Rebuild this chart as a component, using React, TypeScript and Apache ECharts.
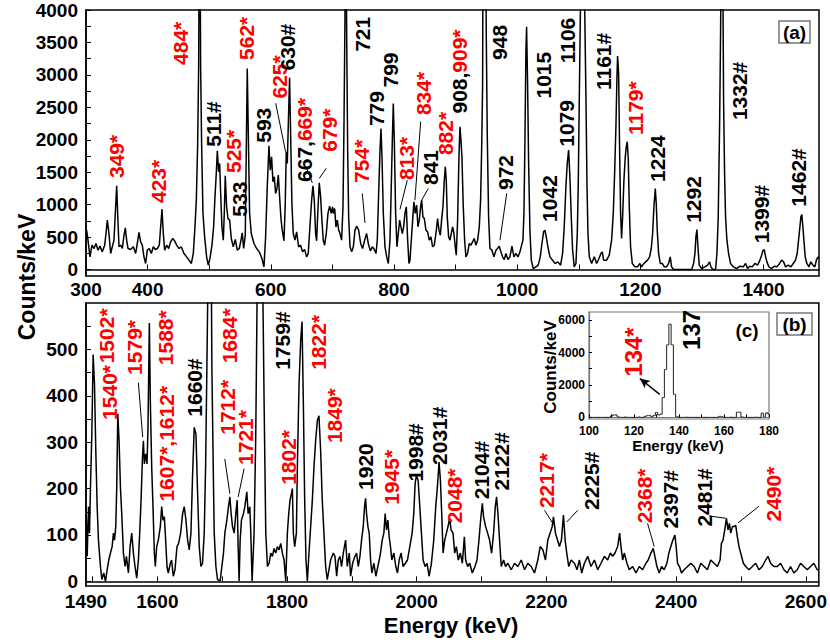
import React, { useEffect, useRef } from "react";
import * as echarts from "echarts";

// ---------- Panel (a): spectrum 300-1490 keV, [energy keV, counts/keV] ----------
const spectrumA: [number, number][] = [
  [301,607],[303.2,452],[306.5,195],[309.7,375],[313,324],[316.2,401],[319.5,298],[322.7,360],[326.5,272],[330.3,375],[332.5,555],[334.6,761],[337.3,555],[340,247],[343.3,375],[345.4,452],[348.1,966],[349.8,1290],[351.4,864],[353.6,350],[356.3,375],[359,324],[361.7,529],[363.8,643],[366,452],[368.2,324],[372.5,308],[376.8,350],[380.6,247],[383.3,401],[386,571],[388.7,427],[391.4,375],[394.1,195],[396.8,93],[399.5,298],[402.8,324],[406,247],[409.3,350],[412.5,308],[415.8,324],[419,375],[421.2,658],[423.4,930],[425.5,555],[427.7,298],[431,375],[434.2,324],[437.4,427],[440.7,478],[443.9,442],[447.2,375],[451,324],[454.7,350],[459,247],[463.4,195],[467.2,144],[471,93],[474.2,247],[476.9,658],[479.1,1069],[481.2,1892],[482.9,3125],[484.5,6500],[486.1,3125],[487.7,1943],[489.9,864],[492.6,504],[495.8,195],[498.5,67],[501.2,170],[504.5,375],[507.2,658],[509.4,1121],[511.5,1480],[513.2,1830],[515.3,1506],[517,1635],[518.6,1172],[520.7,658],[522.9,452],[524.5,864],[526.1,1444],[528.3,966],[530.5,786],[533.2,761],[535.9,478],[539.1,350],[542.4,463],[545.6,298],[548.9,324],[551.6,452],[553.7,565],[555.9,324],[558.6,529],[560.2,1840],[561.8,3099],[563.5,2097],[565.6,864],[568.3,555],[572.7,401],[577,324],[581.3,272],[585.6,170],[588.9,41],[591.6,504],[594.3,1275],[597,1907],[599.2,1532],[601.3,1737],[603.5,1352],[605.7,1429],[607.8,1172],[610,1249],[612.2,1455],[614.3,1121],[616.5,786],[618.6,607],[621.4,442],[623.5,1018],[625.1,1814],[626.8,1635],[628.9,2406],[630.5,2956],[632.2,2097],[634.3,1018],[636.5,555],[639.2,452],[641.9,581],[645.2,350],[648.4,375],[651.6,272],[654.9,308],[658.1,195],[660.8,247],[663.5,658],[666.3,1069],[668.4,1290],[670.6,1069],[672.8,555],[674.4,442],[676.5,915],[678.7,1336],[680.9,1121],[683,761],[685.2,452],[687.4,375],[690.1,555],[692.8,864],[695.5,977],[698.2,864],[700.3,966],
  [701.5,864],[703.7,941],[705.8,658],[708,761],[710.2,607],[712.3,555],[715,452],[717.2,966],[718.8,2200],[720.4,3845],[721.5,6500],[723.1,3742],[724.8,1840],[726.4,812],[728.6,350],[731.3,272],[734,350],[736.7,607],[739.4,668],[742.6,607],[745.9,401],[749.1,324],[752.4,452],[755.6,555],[758.3,401],[761.6,288],[764.8,350],[768.1,308],[770.8,247],[772.9,452],[775.1,1172],[777.3,1840],[778.9,2174],[780.5,1737],[782.7,864],[785.4,350],[788.1,195],[790.8,93],[793.5,452],[795.6,1275],[797.3,1994],[798.9,2560],[800.5,1994],[802.7,864],[804.8,350],[807,555],[809.2,761],[811.3,658],[813.5,555],[815.7,658],[817.8,864],[820,966],[822.2,452],[824.3,93],[826,144],[828.1,452],[830.3,761],[832.4,1043],[834.6,864],[836.8,992],[838.9,658],[841.1,761],[843.2,966],[844.9,1069],[847,812],[849.2,786],[851.9,607],[854.6,581],[857.3,452],[860,504],[862.7,350],[865.4,375],[868.1,555],[870.8,786],[873,607],[875.2,529],[877.3,761],[879.5,966],[881.7,1378],[883.3,1583],[884.9,1378],[886.5,812],[888.7,504],[890.9,452],[893,555],[895.2,658],[897.3,555],[899.5,350],[901.1,221],[903.3,761],[905.5,1737],[907.1,2200],[908.7,1994],[910.3,1737],[912.5,966],[914.7,452],[916.8,195],[919.5,247],[922.2,401],[925,375],[927.6,427],[930.3,478],[933,375],[935.8,452],[938.5,658],[940.6,1069],[942.3,1840],[943.9,2868],[945,6500],[948,6500],[949.8,3639],[951.4,2097],[953.6,812],[955.8,324],[959,298],[962.3,195],[965.5,298],[968.2,324],[970.9,360],[973.6,272],[976.3,195],[979,154],[981.7,247],[985,154],[988.2,195],[991.5,360],[994.7,195],[998,247],[1001.2,195],[1004.5,272],[1007.2,375],[1009.3,452],[1011,864],[1012.6,1994],[1014.2,3382],[1015.3,3742],[1016.9,2868],[1018.5,1686],[1020.7,607],[1022.9,144],[1026.1,15],[1030.4,41],[1034.2,67],[1037.5,195],[1040.2,401],[1042.9,581],[1045,607],[1047.2,504],[1049.9,350],[1053.2,195],[1057.5,144],[1061.8,93],[1066.1,118],[1070.5,67],[1073.7,247],[1076.4,658],[1079.1,1275],[1081.3,1635],[1083.5,1840],[1085.6,1429],[1087.8,812],[1090,298],[1092.6,41],[1095.4,93],[1097.6,555],[1099.2,1326],[1100.8,2611],[1106,6500],[1111.7,2611],[1113.3,1326],[1114.9,555],[1117.1,195],[1120.8,93],[1125.2,195],[1129,93],[1132.8,170],[1136,247],[1138.2,272],[1140.3,144],[1145.2,144],[1149.5,221],[1153.3,452],[1156,864],[1158.2,1480],[1160.3,2200],[1162,2971],[1163,3290],[1164.7,3022],[1166.3,1840],[1167.9,864],[1169.5,478],[1171.2,812],[1173.3,1378],[1175.5,1737],[1177.1,1892],[1178.7,1969],[1180.4,1686],[1182,966],[1184.1,350],[1186.9,93],[1191.2,41],[1195.5,41],[1199.3,93],[1202,41],[1204.7,82],[1208.5,118],[1211.7,144],[1215,195],[1217.7,324],[1219.9,555],[1222,966],[1224.2,1249],[1225.8,1018],[1227.4,607],[1229.6,247],[1232.3,93],[1235.5,93],[1238.8,41],[1242.6,41],[1245.8,93],[1248.5,195],[1250.7,41],[1254,0],[1283.2,0],[1286.4,93],[1288.6,247],[1290.2,504],[1291.8,617],[1293.4,350],[1295.6,67],[1299.4,15],[1304.8,41],[1309.1,67],[1312.4,118],[1314.5,41],[1317.8,0],[1322.1,0],[1324.3,247],[1326.4,812],[1328.6,2200],[1330.2,3639],[1332.6,6500],[1335.1,2611],[1336.7,1480],[1338.3,812],[1340.5,452],[1343.2,247],[1346.4,93],[1350.8,41],[1356.2,15],[1361.6,51],[1367,41],[1370.8,93],[1374,15],[1377.8,51],[1381.6,41],[1385.9,93],[1390.3,67],[1394.1,144],[1396.8,221],[1398.9,288],[1401.1,308],[1403.3,195],[1405.4,118],[1408.7,41],[1413,15],[1417.3,51],[1421.6,41],[1426,93],[1429.2,144],[1432.5,118],[1435.7,41],[1440,67],[1444.4,41],[1448.2,93],[1451.9,144],[1454.6,247],[1456.8,452],[1459,658],[1460.6,812],[1462.2,848],[1463.8,658],[1465.5,452],[1467.6,195],[1470.3,93],[1473.6,41],[1476.8,118],[1480.1,67],[1483.3,41],[1486,154],[1488.7,195],[1490,170],
];

// ---------- Panel (b): spectrum 1490-2620 keV ----------
const spectrumB: [number, number][] = [
  [1490.3,146],[1491.8,54],[1493.9,161],[1495.4,104],[1496.9,203],[1499,318],[1501,489],[1503.1,425],[1505.1,282],[1507.2,161],[1509.2,89],[1512.3,32],[1514.4,4],[1517.4,18],[1520,0],[1522.6,25],[1525.1,46],[1527.7,61],[1530.3,75],[1532.3,104],[1533.9,89],[1535.9,118],[1537.4,203],[1539,361],[1541,303],[1543.1,203],[1545.1,146],[1547.7,61],[1550.3,32],[1552.3,54],[1555.4,18],[1558,75],[1560.5,104],[1563.1,61],[1565.6,32],[1568.2,7],[1570.8,46],[1572.8,104],[1574.9,175],[1576.9,261],[1578.5,303],[1580,253],[1582.1,275],[1584.1,253],[1585.6,332],[1587.7,557],[1589.2,389],[1591.3,246],[1593.3,161],[1595.4,61],[1596.9,32],[1599,75],[1601.5,89],[1604.6,118],[1606.7,161],[1608.7,132],[1610.8,139],[1612.8,89],[1614.9,32],[1616.9,18],[1620,39],[1622,46],[1624.6,11],[1627.2,25],[1630.3,75],[1632.8,82],[1635.9,104],[1639,146],[1641.5,161],[1644.1,132],[1646.7,89],[1649.2,68],[1651.8,104],[1654.4,232],[1656.9,332],[1659.5,318],[1662.1,189],[1664.6,75],[1667.2,32],[1669.7,39],[1672.3,104],[1674.4,246],[1676.4,461],[1678.5,700],[1680.5,1200],[1682.6,800],[1684.1,461],[1686.2,246],[1687.7,104],[1690.3,32],[1692.8,4],[1696.9,1],[1699.5,32],[1702,61],[1704.1,104],[1707.2,132],[1709.7,161],[1711.8,182],[1713.8,146],[1715.9,118],[1718.5,104],[1721,146],[1723.1,175],[1724.6,75],[1726.1,1],[1727.7,89],[1729.7,132],[1732.8,146],[1734.9,161],[1738,193],[1740,146],[1742.6,161],[1744.1,104],[1746.1,1],[1749.2,104],[1751.8,318],[1754.4,700],[1758.5,2000],[1762.1,700],[1764.6,389],[1767.2,104],[1769.8,32],[1772.3,39],[1774.9,61],[1777.4,54],[1780,71],[1782.6,61],[1785.1,75],[1787.7,68],[1790.3,82],[1792.8,61],[1795.4,46],[1798,1],[1800.5,104],[1802.6,146],[1804.6,175],[1806.7,189],[1808.2,200],[1809.7,104],[1811.8,75],[1814.4,104],[1815.9,246],[1818.5,425],[1821,518],[1823.1,560],[1825.1,389],[1827.2,175],[1829.2,46],[1831.3,1],[1833.8,61],[1836.4,118],[1839,175],[1841.5,246],[1844.1,303],[1846.7,346],[1849.2,357],[1851.8,282],[1854.3,175],[1856.9,104],[1859.5,32],[1862,4],[1867.2,46],[1871.3,61],
  [1873.9,54],[1876.5,11],[1879,46],[1881.6,54],[1884.1,32],[1886.7,61],[1890.3,89],[1892.9,32],[1895.9,61],[1898,11],[1901.1,39],[1904.7,54],[1907.2,61],[1909.8,32],[1912.4,54],[1914.9,89],[1917.5,118],[1919.5,161],[1921.1,179],[1922.6,146],[1924.7,118],[1926.7,104],[1928.8,46],[1930.8,18],[1933.9,39],[1937,11],[1940,32],[1942.1,46],[1944.1,61],[1946.7,89],[1949.3,104],[1951.3,146],[1953.4,111],[1955.4,132],[1957.5,96],[1959.5,75],[1961.6,46],[1964.7,61],[1967.7,32],[1970.3,18],[1972.9,46],[1975.9,61],[1979,32],[1982.6,39],[1985.7,46],[1989.3,75],[1992.9,104],[1995.4,146],[1997.5,211],[1999.5,228],[2002.1,218],[2004.7,161],[2007.2,104],[2009.8,46],[2012.9,32],[2015.9,39],[2019,11],[2022.6,39],[2026.2,89],[2029.3,161],[2031.8,203],[2034.4,257],[2036.5,218],[2038.5,146],[2040.6,61],[2043.1,89],[2045.7,104],[2048.2,118],[2050.8,136],[2052.9,111],[2055.9,104],[2058.5,61],[2061.1,75],[2064.1,46],[2067.2,61],[2070.3,39],[2073.4,96],[2075.4,46],[2078.5,32],[2081.6,39],[2085.7,18],[2089.8,32],[2092.9,46],[2095.9,89],[2098.5,132],[2101.1,168],[2103.1,139],[2106.2,118],[2109.3,104],[2112.3,89],[2115.4,61],[2118.5,104],[2121.1,161],[2123.1,182],[2125.2,146],[2127.7,89],[2130.3,32],[2133.9,46],[2136.9,32],[2140.5,39],[2145.7,25],[2150.8,39],[2155.9,32],[2161.1,46],[2166.2,25],[2171.3,39],[2176.5,32],[2181.6,18],[2186.7,46],[2190.3,75],[2194.4,68],[2198.5,46],[2202.1,89],[2205.7,104],[2208.8,118],[2210.8,139],[2213.9,104],[2217,89],[2220,75],[2223.1,89],[2226.2,143],[2228.8,89],[2231.3,61],[2234.4,32],[2238,46],[2243.1,39],
  [2247.2,25],[2250.8,46],[2254.4,18],[2258.5,39],[2263.6,54],[2268.7,32],[2273.9,46],[2279,25],[2284.1,39],[2289.3,54],[2294.4,46],[2298.5,61],[2302.1,54],[2305.7,61],[2309.8,75],[2312.8,104],[2314.9,75],[2317.5,46],[2320,61],[2324.1,39],[2327.7,25],[2332.8,32],[2338,18],[2343.1,32],[2348.2,25],[2353.4,39],[2356.9,46],[2361.1,61],[2364.6,71],[2367.2,54],[2370.3,32],[2373.9,18],[2377.5,32],[2381.6,25],[2385.7,39],[2388.7,61],[2391.8,75],[2394.9,89],[2398,100],[2400,75],[2402.1,39],[2405.1,32],[2408.2,18],[2412.3,25],[2417.5,32],[2422.6,39],[2427.7,32],[2432.8,18],[2438,39],[2443.1,32],[2448.2,25],[2453.3,46],[2458.5,39],[2463.6,32],[2467.7,46],[2469.8,82],[2472.3,89],[2474.9,111],[2477.5,136],[2480,111],[2482.1,125],[2484.1,104],[2486.7,118],[2489.2,118],[2491.8,121],[2494.4,96],[2496.9,75],[2499.5,61],[2503.6,39],[2507.2,32],[2512.3,25],[2517.5,32],[2522.6,39],[2527.7,25],[2532.8,32],[2538,46],[2541.5,54],[2545.7,39],[2550.8,32],[2555.9,32],[2561,39],[2566.2,25],[2571.3,18],[2576.4,32],[2581.5,18],[2586.7,25],[2591.8,39],[2596.9,32],[2602.1,25],[2607.2,32],[2612.3,39],[2617.5,25],[2620,25],
];

// ---------- Inset (c): 1-keV bins from 100 to 180 keV ----------
const insetStart = 100;
const insetCounts = [
  0,0,0,0,0,0,0,0,0,0,          // 100-109
  80,150,150,30,0,0,20,0,0,0,   // 110-119
  0,0,30,0,0,60,110,110,40,120, // 120-129
  300,150,200,1220,2950,4475,5750,4475,1420,40, // 130-139
  0,0,0,10,0,0,0,0,0,0,         // 140-149
  0,0,0,0,0,0,0,0,60,40,        // 150-159
  0,0,0,10,0,0,320,320,20,0,    // 160-169
  0,0,0,0,10,0,0,260,60,280,200, // 170-180
];

// ---------- Axis ticks and labels ----------
const xLabelsA = [300, 400, 600, 800, 1000, 1200, 1400];
const xTicksA = [300, 400, 500, 600, 700, 800, 900, 1000, 1100, 1200, 1300, 1400];
const yLabelsA = [0, 500, 1000, 1500, 2000, 2500, 3000, 3500, 4000];
const yTicksA = [0,250,500,750,1000,1250,1500,1750,2000,2250,2500,2750,3000,3250,3500,3750,4000];
const xLabelsB = [1490, 1600, 1800, 2000, 2200, 2400, 2600];
const xTicksB = [1500,1600,1700,1800,1900,2000,2100,2200,2300,2400,2500,2600];
const yLabelsB = [0, 100, 200, 300, 400, 500];
const yTicksB = [0,50,100,150,200,250,300,350,400,450,500,550];
const xLabelsC = [100, 120, 140, 160, 180];
const xTicksC = [100, 110, 120, 130, 140, 150, 160, 170, 180];
const yLabelsC = [0, 2000, 4000, 6000];
const yTicksC = [0, 1000, 2000, 3000, 4000, 5000, 6000];

// ---------- Peak labels: [text, energy at label, counts at label start, colour r/k/m] ----------
const peakLabelsA: [string, number, number, string][] = [
  ["349*",350,1410,"r"],["423*",417,1025,"r"],["484*",453,3153,"r"],["511#",507,1892,"k"],
  ["525*",540,1487,"r"],["533",549,814,"k"],["562*",560,3230,"r"],["593",588,1954,"k"],
  ["625*",614,2636,"r"],["630#",627,3068,"k"],["667,669*",655.5,1350,"m"],["679*",695,1815,"r"],
  ["721",748.6,3355,"k"],["754*",747,1335,"r"],["779",772,2211,"k"],["799",795,2805,"k"],
  ["813*",820,1378,"r"],["834*",847.6,2380,"r"],["841",859.4,1302,"k"],["882*",884.4,1764,"r"],
  ["908,909*",906,2404,"m"],["948",970.5,3230,"k"],["972",981.8,1225,"k"],["1015",1042.3,2636,"k"],
  ["1042",1053,734,"k"],["1079",1080,1892,"k"],["1106",1082.5,3179,"k"],["1161#",1139.7,2766,"k"],
  ["1179*",1192,2073,"r"],["1224",1227,1350,"k"],["1292",1287,719,"k"],["1332#",1361.7,2303,"k"],
  ["1399#",1396.8,404,"k"],["1462#",1457.5,969,"k"],
];
const peakLabelsB: [string, number, number, string][] = [
  ["1502*",1521,470,"r"],["1540*",1526,348,"r"],["1579*",1564.6,445,"r"],["1588*",1612.8,466,"r"],
  ["1607*,1612*",1613.8,172,"r"],["1660#",1657,355,"k"],["1684*",1711.3,470,"r"],["1712*",1708,316,"r"],
  ["1721*",1736.4,251,"r"],["1759#",1792.8,456,"k"],["1802*",1801.5,208,"r"],["1822*",1849.2,456,"r"],
  ["1849*",1873.8,298,"r"],["1920",1921.6,197,"k"],["1945*",1961,165,"r"],["1998#",1998.5,215,"k"],
  ["2031#",2034.4,251,"k"],["2048*",2058,125,"r"],["2104#",2099.5,177,"k"],["2122#",2130.3,196,"k"],
  ["2217*",2200.5,158,"r"],["2225#",2268.8,154,"k"],["2368*",2351.8,125,"r"],["2397#",2391.8,114,"k"],
  ["2481#",2443.1,118,"k"],["2490*",2549.8,129,"r"],
];
const peakLabelsC: [string, number, number, string][] = [
  ["134*",119.9,2510,"r"],["137",145.5,4158,"k"],
];

// ---------- Leader lines: [E1, c1, E2, c2] ----------
const leadersA = [
  [608,2562,624,1815],[658.3,1559,667.4,1336],[690,1559,678.7,1404],[748.6,1173,752.9,719],
  [821.6,1378,809.7,926],[843.3,2278,834,1069],[855.7,1250,845,1069],[983,1173,972.1,452],
];
const leadersB = [
  [1570.8,428,1577.4,311],[1704,264,1711.8,189],[1733.8,243,1724.6,182],[2197,153,2210.8,123],
  [2248.2,153,2231.3,128],[2355.9,125,2366.2,75],[2450.8,141,2476.4,136],[2527.7,162,2495.4,126],
];
const arrowC = [131.4,1424,122.6,2400];

const FONT = "'Liberation Sans', Arial, Helvetica, sans-serif";
const RED = "#ff0000";

function buildOption() {
  const lab = (size: number, margin: number, values: number[]) => ({
    fontFamily: FONT, fontWeight: "bold", fontSize: size, color: "#000", margin, customValues: values,
    formatter: (v: number) => String(v),
  });
  const tick = (values: number[], len: number) => ({
    show: true, inside: true, length: len, customValues: values, lineStyle: { color: "#000", width: 1 },
  });
  const line = (w: number, c = "#000") => ({ show: true, lineStyle: { color: c, width: w } });
  const ml = (arr: number[][], arrow = false) => ({
    silent: true,
    symbol: arrow ? ["none", "arrow"] : ["none", "none"],
    symbolSize: arrow ? [7, 10] : 0,
    label: { show: false },
    lineStyle: { color: "#000", width: arrow ? 1.5 : 1, type: "solid" },
    emphasis: { disabled: true },
    data: arr.map((l) => [{ coord: [l[0], l[1]] }, { coord: [l[2], l[3]] }]),
  });
  const insetData = insetCounts.map((v, i) => [insetStart + i, v]);

  return {
    animation: false,
    backgroundColor: "#fff",
    grid: [
      { left: 86, top: 10, width: 733, height: 266, show: true, borderColor: "#000", borderWidth: 1.5, backgroundColor: "transparent" },
      { left: 86, top: 303, width: 733, height: 283, show: true, borderColor: "#000", borderWidth: 1.5, backgroundColor: "transparent" },
      { left: 589, top: 312, width: 180, height: 107, show: true, borderColor: "#777", borderWidth: 1.2, backgroundColor: "#fff" },
    ],
    xAxis: [
      { gridIndex: 0, type: "value", min: 300, max: 1490, axisLine: line(1.5), axisTick: tick(xTicksA, 5), axisLabel: lab(19, 4, xLabelsA), splitLine: { show: false } },
      { gridIndex: 1, type: "value", min: 1490, max: 2620, axisLine: line(1.5), axisTick: tick(xTicksB, 5), axisLabel: lab(19, 6, xLabelsB), splitLine: { show: false } },
      { gridIndex: 2, type: "value", min: 100, max: 180, axisLine: line(1.2, "#777"), axisTick: tick(xTicksC, 3), axisLabel: lab(12, 6, xLabelsC), splitLine: { show: false } },
    ],
    yAxis: [
      { gridIndex: 0, type: "value", min: -100, max: 4000, axisLine: line(1.5), axisTick: tick(yTicksA, 5), axisLabel: lab(19, 8, yLabelsA), splitLine: { show: false } },
      { gridIndex: 1, type: "value", min: -10, max: 600, axisLine: line(1.5), axisTick: tick(yTicksB, 5), axisLabel: lab(19, 8, yLabelsB), splitLine: { show: false } },
      { gridIndex: 2, type: "value", min: -100, max: 6500, axisLine: line(1.2, "#777"), axisTick: tick(yTicksC, 3), axisLabel: lab(12, 4, yLabelsC), splitLine: { show: false } },
    ],
    series: [
      { type: "line", xAxisIndex: 0, yAxisIndex: 0, data: spectrumA, showSymbol: false, symbol: "none", clip: true, lineStyle: { color: "#000", width: 1.5 }, markLine: ml(leadersA) },
      { type: "line", xAxisIndex: 1, yAxisIndex: 1, data: spectrumB, showSymbol: false, symbol: "none", clip: true, lineStyle: { color: "#000", width: 1.5 }, markLine: ml(leadersB) },
      { type: "line", xAxisIndex: 2, yAxisIndex: 2, data: insetData, step: "middle", showSymbol: false, symbol: "none", clip: true, lineStyle: { color: "#222", width: 1 }, markLine: ml([arrowC], true), z: 5 },
    ],
  };
}

export default function App() {
  const ref = useRef<HTMLDivElement>(null);
  useEffect(() => {
    if (!ref.current) return;
    const chart = echarts.init(ref.current, undefined, { renderer: "svg" });
    chart.setOption(buildOption() as any);

    const rotated = (labels: [string, number, number, string][], gi: number, size: number) =>
      labels.map(([t, e, c, col]) => {
        const p = chart.convertToPixel({ gridIndex: gi } as any, [e, c]) as number[];
        const base = { fontFamily: FONT, fontWeight: "bold", fontSize: size };
        let style: any;
        if (col === "m") {
          const i = t.indexOf(",") + 1;
          style = {
            text: `{k|${t.slice(0, i)}}{r|${t.slice(i)}}`,
            rich: { k: { ...base, fill: "#000" }, r: { ...base, fill: RED } },
            ...base,
          };
        } else {
          style = { text: t, fill: col === "r" ? RED : "#000", ...base };
        }
        return {
          type: "text", x: p[0], y: p[1], rotation: Math.PI / 2, z: 10,
          style: { ...style, align: "left", verticalAlign: "middle", textAlign: "left", textVerticalAlign: "middle" },
        };
      });

    const centered = (text: string, x: number, y: number, size: number, rot = 0) => ({
      type: "text", x, y, rotation: rot, z: 10,
      style: { text, fill: "#000", fontFamily: FONT, fontWeight: "bold", fontSize: size, align: "center", verticalAlign: "middle", textAlign: "center", textVerticalAlign: "middle" },
    });
    const box = (x: number, y: number, w: number, h: number) => ({
      type: "rect", z: 9, shape: { x, y, width: w, height: h }, style: { fill: "#fff", stroke: "#777", lineWidth: 1.5 },
    });

    chart.setOption({
      graphic: [
        ...rotated(peakLabelsA, 0, 21),
        ...rotated(peakLabelsB, 1, 21),
        ...rotated(peakLabelsC, 2, 24),
        centered("Counts/keV", 27, 277, 23, Math.PI / 2),
        centered("Energy (keV)", 451, 625, 22),
        centered("Counts/keV", 550, 367, 17, Math.PI / 2),
        centered("Energy (keV)", 678, 445, 15),
        centered("(c)", 747, 330, 19),
        box(779, 21, 31, 22),
        centered("(a)", 794.5, 32, 19),
        box(777, 313, 35, 22),
        centered("(b)", 794.5, 324, 19),
      ],
    } as any);

    return () => chart.dispose();
  }, []);
  return (
    <div
      ref={ref}
      style={{ position: "fixed", left: 0, top: 0, width: 830, height: 642, background: "#fff" }}
    />
  );
}
